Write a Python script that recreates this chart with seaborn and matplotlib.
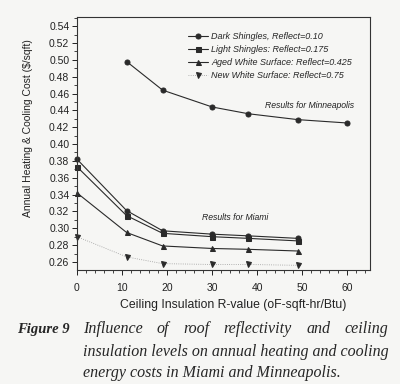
import matplotlib
matplotlib.use("Agg")
import matplotlib.pyplot as plt
from matplotlib.ticker import MultipleLocator, FormatStrFormatter
import seaborn as sns
import pandas as pd

r_values = [0, 11, 19, 30, 38, 49]
mpls_r = [11, 19, 30, 38, 49, 60]
mpls_dark = [0.498, 0.464, 0.444, 0.436, 0.429, 0.425]
miami_dark = [0.382, 0.321, 0.297, 0.293, 0.291, 0.288]
miami_light = [0.373, 0.315, 0.294, 0.290, 0.288, 0.285]
miami_aged = [0.342, 0.295, 0.279, 0.276, 0.275, 0.273]
miami_new = [0.290, 0.266, 0.258, 0.257, 0.257, 0.256]
labels = ["Dark Shingles, Reflect=0.10", "Light Shingles: Reflect=0.175",
          "Aged White Surface: Reflect=0.425", "New White Surface: Reflect=0.75"]

sns.set_theme(style="ticks")
plt.rcParams['font.family'] = ['Liberation Sans', 'DejaVu Sans']
bg = '#f6f6f4'
fig = plt.figure(figsize=(4, 3.84), dpi=100, facecolor=bg)
ax = fig.add_axes([0.1925, 0.297, 0.7325, 0.659])
ax.set_facecolor(bg)

lc = '#2a2a2a'
series = [(miami_dark, 'o', '-', labels[0]), (miami_light, 's', '-', labels[1]),
          (miami_aged, '^', '-', labels[2]), (miami_new, 'v', ':', labels[3])]
for vals, mk, ls, lab in series:
    df = pd.DataFrame({'R': r_values, 'cost': vals})
    dotted = ls == ':'
    sns.lineplot(data=df, x='R', y='cost', ax=ax, color='#9a9a9a' if dotted else lc,
                 marker=mk, markersize=3.6, markerfacecolor=lc,
                 linestyle=ls, linewidth=0.6 if dotted else 0.8, label=lab,
                 markeredgecolor=lc, clip_on=False)
dfm = pd.DataFrame({'R': mpls_r, 'cost': mpls_dark})
sns.lineplot(data=dfm, x='R', y='cost', ax=ax, color=lc, marker='o', markersize=3.6,
             linewidth=0.8, markeredgecolor=lc, legend=False)

ax.set_xlim(0, 65)
ax.set_ylim(0.2505, 0.551)
ax.xaxis.set_major_locator(MultipleLocator(10))
ax.xaxis.set_minor_locator(MultipleLocator(2))
ax.yaxis.set_major_locator(MultipleLocator(0.02))
ax.yaxis.set_minor_locator(MultipleLocator(0.01))
ax.yaxis.set_major_formatter(FormatStrFormatter('%.2f'))
ax.set_yticks([0.26 + 0.02 * i for i in range(15)])
ax.tick_params(axis='both', which='major', direction='out', length=3.5, width=0.7,
               labelsize=7.5, colors='#222222', pad=2)
ax.tick_params(axis='both', which='minor', direction='out', length=2, width=0.6)
ax.tick_params(axis='x', pad=6)
for s in ax.spines.values():
    s.set_linewidth(0.8)
    s.set_color('#333333')

ax.set_xlabel("Ceiling Insulation R-value (oF-sqft-hr/Btu)", fontsize=8.8, color='#222222')
ax.set_ylabel("Annual Heating & Cooling Cost ($/sqft)", fontsize=7.5, color='#222222')
ax.xaxis.set_label_coords(0.532, -0.115)
ax.yaxis.set_label_coords(-0.15, 0.56)

leg = ax.legend(loc='upper right', bbox_to_anchor=(0.96, 0.965), frameon=False,
                prop={'size': 6.5, 'style': 'italic'}, handlelength=2.2, handletextpad=0.4,
                labelspacing=0.45, borderaxespad=0.3)

ax.text(354 / 400, 1 - 106 / 384, "Results for Minneapolis", transform=fig.transFigure,
        ha='right', va='center', fontsize=6.2, style='italic', color='#222222')
ax.text(202 / 400, 1 - 218 / 384, "Results for Miami", transform=fig.transFigure,
        ha='left', va='center', fontsize=6.2, style='italic', color='#222222')

# caption
serif = ['Liberation Serif', 'DejaVu Serif']
fs = 11.5
fig.text(70 / 400, 1 - 329 / 384, "Figure 9", family=serif, weight='bold', style='italic',
         fontsize=10.5, ha='right', va='center')
fig.canvas.draw()
renderer = fig.canvas.get_renderer()
x0, x1 = 83, 388
line1 = "Influence of roof reflectivity and ceiling".split()
widths = []
for w in line1:
    t = fig.text(0, 0, w, family=serif, style='italic', fontsize=fs)
    widths.append(t.get_window_extent(renderer).width)
    t.remove()
gap = (x1 - x0 - sum(widths)) / (len(line1) - 1)
x = x0
for w, wd in zip(line1, widths):
    fig.text(x / 400, 1 - 329 / 384, w, family=serif, style='italic', fontsize=fs,
             ha='left', va='center')
    x += wd + gap
fig.text(x0 / 400, 1 - 352 / 384, "insulation levels on annual heating and cooling",
         family=serif, style='italic', fontsize=fs, ha='left', va='center')
fig.text(x0 / 400, 1 - 373 / 384, "energy costs in Miami and Minneapolis.",
         family=serif, style='italic', fontsize=fs, ha='left', va='center')

fig.savefig("out.png", dpi=100, facecolor=bg)
